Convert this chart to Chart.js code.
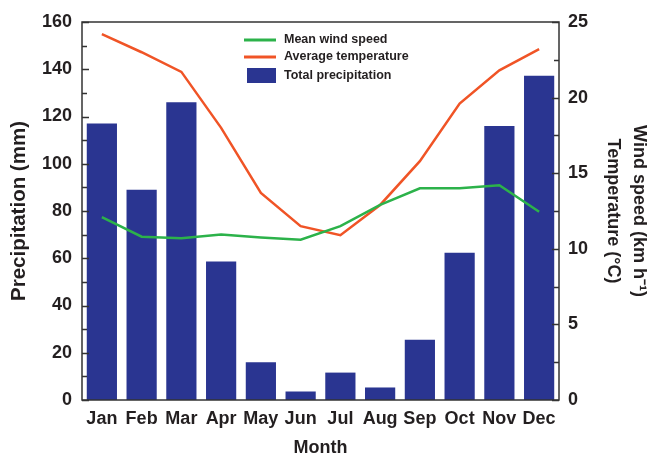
<!DOCTYPE html>
<html>
<head>
<meta charset="utf-8">
<title>Precipitation, temperature and wind speed</title>
<script src="https://cdn.jsdelivr.net/npm/chart.js@4.4.1/dist/chart.umd.min.js"></script>
<style>
	html, body { margin: 0; padding: 0; background: #fff; }
	#wrap { width: 652px; height: 456px; }
</style>
</head>
<body>
<div id="wrap"><canvas id="myChart"></canvas></div>

<script>
	var months = ['Jan', 'Feb', 'Mar', 'Apr', 'May', 'Jun', 'Jul', 'Aug', 'Sep', 'Oct', 'Nov', 'Dec'];
	var precipitation = [117, 89, 126, 58.6, 16, 3.6, 11.6, 5.3, 25.5, 62.3, 116, 137.3];
	var temperature = [24.2, 23.0, 21.7, 18.0, 13.7, 11.5, 10.9, 12.9, 15.8, 19.6, 21.8, 23.2];
	var windSpeed = [12.1, 10.8, 10.7, 10.95, 10.75, 10.6, 11.5, 12.9, 14.0, 14.0, 14.2, 12.45];
	var precipTicks = [0, 20, 40, 60, 80, 100, 120, 140, 160];
	var rightTicks = [0, 5, 10, 15, 20, 25];

	var ink = '#231f20';
	var fontFamily = '"Liberation Sans", Arial, sans-serif';

	// frame + inward ticks, the way the original plot has them
	var framePlugin = {
		id: 'frame',
		afterDatasetsDraw: function( chart ) {
			var ctx = chart.ctx;
			var a = chart.chartArea;
			var yl = chart.scales.y;
			var yr = chart.scales.y1;

			ctx.save();
			ctx.strokeStyle = '#333';
			ctx.lineWidth = 1.5;
			ctx.strokeRect( a.left, a.top, a.right - a.left, a.bottom - a.top );

			ctx.beginPath();
			for( var v = 0; v <= 160; v += 10 ) {
				var py = Math.round( yl.getPixelForValue( v ) ) + 0.5;
				var len = ( v % 20 === 0 ) ? 7 : 5;
				ctx.moveTo( a.left, py );
				ctx.lineTo( a.left + len, py );
			}
			for( var w = 0; w <= 25; w += 2.5 ) {
				var qy = Math.round( yr.getPixelForValue( w ) ) + 0.5;
				var len2 = ( w % 5 === 0 ) ? 7 : 5;
				ctx.moveTo( a.right, qy );
				ctx.lineTo( a.right - len2, qy );
			}
			ctx.stroke();
			ctx.restore();
		}
	};

	// small legend stacked inside the plot
	var legendPlugin = {
		id: 'boxLegend',
		afterDraw: function( chart, args, opts ) {
			var ctx = chart.ctx;
			var sets = chart.data.datasets;

			ctx.save();
			ctx.font = 'bold 12.5px ' + fontFamily;
			ctx.textBaseline = 'middle';
			ctx.fillStyle = ink;

			for( var i = 0; i < sets.length; i++ ) {
				var ds = sets[ i ];
				var cy = opts.rows[ i ];

				if( ds.type === 'line' ) {
					ctx.strokeStyle = ds.borderColor;
					ctx.lineWidth = 3;
					ctx.beginPath();
					ctx.moveTo( opts.x, cy );
					ctx.lineTo( opts.x + 32, cy );
					ctx.stroke();
				} else {
					ctx.fillStyle = ds.backgroundColor;
					ctx.fillRect( opts.x + 3, cy - 7.5, 29, 15 );
				}

				ctx.fillStyle = ink;
				ctx.fillText( ds.label, opts.x + 40, cy );
			}
			ctx.restore();
		}
	};

	new Chart( document.getElementById( 'myChart' ), {
		data: {
			labels: months,
			datasets: [{
				type: 'line',
				label: 'Mean wind speed',
				data: windSpeed,
				yAxisID: 'y1',
				borderColor: 'rgb(44,178,74)',
				borderWidth: 2.5,
				pointRadius: 0,
				tension: 0
			}, {
				type: 'line',
				label: 'Average temperature',
				data: temperature,
				yAxisID: 'y1',
				borderColor: 'rgb(240,84,38)',
				borderWidth: 2.5,
				pointRadius: 0,
				tension: 0
			}, {
				type: 'bar',
				label: 'Total precipitation',
				data: precipitation,
				yAxisID: 'y',
				backgroundColor: 'rgb(42,53,145)',
				categoryPercentage: 1,
				barPercentage: 0.76
			}]
		},
		options: {
			responsive: true,
			maintainAspectRatio: false,
			animation: false,
			layout: { padding: { top: 22, left: 0, right: 0, bottom: 0 } },
			plugins: {
				legend: { display: false },
				tooltip: { enabled: false },
				boxLegend: { x: 244, rows: [ 40, 57, 75.5 ] }
			},
			scales: {
				x: {
					grid: { display: false, drawTicks: false },
					border: { display: false },
					ticks: {
						color: ink,
						padding: 8,
						autoSkip: false,
						maxRotation: 0,
						minRotation: 0,
						font: { family: fontFamily, size: 18, weight: 'bold' }
					},
					title: {
						display: true,
						text: 'Month',
						color: ink,
						padding: { top: 0, bottom: 0 },
						font: { family: fontFamily, size: 18, weight: 'bold', lineHeight: '16px' }
					},
					afterFit: function( scale ) { scale.height = 56; }
				},
				y: {
					position: 'left',
					min: 0,
					max: 160,
					afterBuildTicks: function( scale ) {
						scale.ticks = precipTicks.map( function( v ) { return { value: v }; } );
					},
					grid: { display: false, drawTicks: false },
					border: { display: false },
					ticks: {
						color: ink,
						padding: 10,
						font: { family: fontFamily, size: 18, weight: 'bold' }
					},
					title: {
						display: true,
						text: 'Precipitation (mm)',
						color: ink,
						padding: { top: 8, bottom: 0 },
						font: { family: fontFamily, size: 20.5, weight: 'bold', lineHeight: '22px' }
					},
					afterFit: function( scale ) { scale.width = 82; }
				},
				y1: {
					position: 'right',
					min: 0,
					max: 25,
					afterBuildTicks: function( scale ) {
						scale.ticks = rightTicks.map( function( v ) { return { value: v }; } );
					},
					grid: { display: false, drawTicks: false },
					border: { display: false },
					ticks: {
						color: ink,
						padding: 9,
						font: { family: fontFamily, size: 18, weight: 'bold' }
					},
					title: {
						display: true,
						text: [ 'Wind speed (km h\u207B\u00B9)', 'Temperature (\u00B0C)' ],
						color: ink,
						padding: { top: 0, bottom: 0 },
						font: { family: fontFamily, size: 18, weight: 'bold', lineHeight: '26px' }
					},
					afterFit: function( scale ) { scale.width = 93; }
				}
			}
		},
		plugins: [ framePlugin, legendPlugin ]
	});
</script>
</body>
</html>
